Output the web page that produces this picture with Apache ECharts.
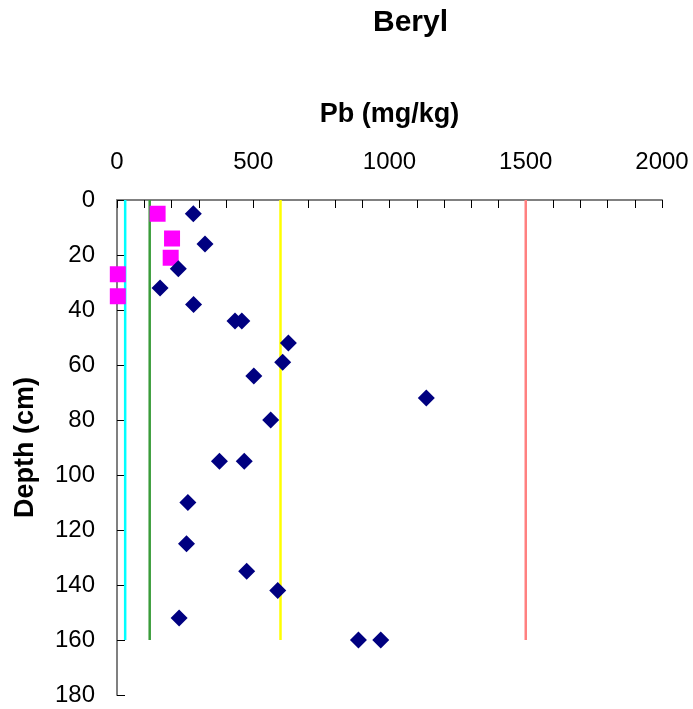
<!DOCTYPE html>
<html>
<head>
<meta charset="utf-8">
<script src="https://cdn.jsdelivr.net/npm/echarts@6/dist/echarts.min.js"></script>
<style>
  html, body { margin: 0; padding: 0; background: #ffffff; }
  #chart { width: 693px; height: 709px; }
</style>
</head>
<body>
<div id="chart"></div>
<script>
// Pb concentration (mg/kg) against sample depth (cm)
const diamondPb    = [280, 323, 225, 158, 281, 433, 458, 629, 608, 502, 1135, 564, 376, 467, 260, 255, 476, 590, 228, 886, 968];
const diamondDepth = [5, 16, 25, 32, 38, 44, 44, 52, 59, 64, 72, 80, 95, 95, 110, 125, 135, 142, 152, 160, 160];
const squarePb     = [149, 202, 197, 3, 3];
const squareDepth  = [5, 14, 21, 27, 35];

// Reference concentrations drawn as vertical guide lines
const guidePb    = [30, 120, 600, 1500];
const guideDepth = [0, 160];
const guideColors = ['#00FFFF', '#3A9C3A', '#FFFF00', '#FF8080'];

const pbLabelStep = 500;
const depthTicks = [0, 20, 40, 60, 80, 100, 120, 140, 160, 180];

const font = '"Liberation Sans", Arial, sans-serif';

const guideSeries = guidePb.map((v, i) => ({
  type: 'line',
  data: guideDepth.map(d => [v, d]),
  symbol: 'none',
  silent: true,
  lineStyle: { color: guideColors[i], width: 2.5, opacity: 1 },
  z: 1
}));

const chart = echarts.init(document.getElementById('chart'), null, { renderer: 'canvas' });
chart.setOption({
  animation: false,
  backgroundColor: '#ffffff',
  title: {
    text: 'Beryl',
    left: 368,
    top: 3,
    textStyle: { fontFamily: font, fontSize: 30, fontWeight: 'bold', color: '#000' }
  },
  grid: { left: 117, top: 200, right: 31, bottom: 14, containLabel: false, outerBoundsMode: 'none' },
  xAxis: {
    type: 'value',
    position: 'top',
    min: 0,
    max: 2000,
    interval: 100,
    name: 'Pb (mg/kg)',
    nameLocation: 'middle',
    nameGap: 72,
    nameTextStyle: { fontFamily: font, fontSize: 27, fontWeight: 'bold', color: '#000' },
    axisLine: { show: true, lineStyle: { color: '#808080', width: 2 } },
    axisTick: { show: true, inside: true, length: 8, lineStyle: { color: '#000', width: 1 } },
    axisLabel: {
      fontFamily: font, fontSize: 24, color: '#000', margin: 26,
      formatter: v => (v % pbLabelStep === 0 ? String(v) : '')
    },
    splitLine: { show: false }
  },
  yAxis: {
    type: 'value',
    inverse: true,
    min: depthTicks[0],
    max: depthTicks[depthTicks.length - 1],
    interval: 20,
    name: 'Depth (cm)',
    nameLocation: 'middle',
    nameGap: 78,
    nameTextStyle: { fontFamily: font, fontSize: 27, fontWeight: 'bold', color: '#000' },
    axisLine: { show: true, lineStyle: { color: '#808080', width: 2 } },
    axisTick: { show: true, inside: true, length: 8, lineStyle: { color: '#000', width: 1 } },
    axisLabel: { fontFamily: font, fontSize: 24, color: '#000', margin: 22 },
    splitLine: { show: false }
  },
  series: [
    ...guideSeries,
    {
      type: 'scatter',
      data: squarePb.map((v, i) => [v, squareDepth[i]]),
      symbol: 'rect',
      symbolSize: 16,
      itemStyle: { color: '#FF00FF', opacity: 1 },
      clip: false,
      z: 3
    },
    {
      type: 'scatter',
      data: diamondPb.map((v, i) => [v, diamondDepth[i]]),
      symbol: 'diamond',
      symbolSize: 17,
      itemStyle: { color: '#000080', opacity: 1 },
      clip: false,
      z: 4
    }
  ]
});
</script>
</body>
</html>
